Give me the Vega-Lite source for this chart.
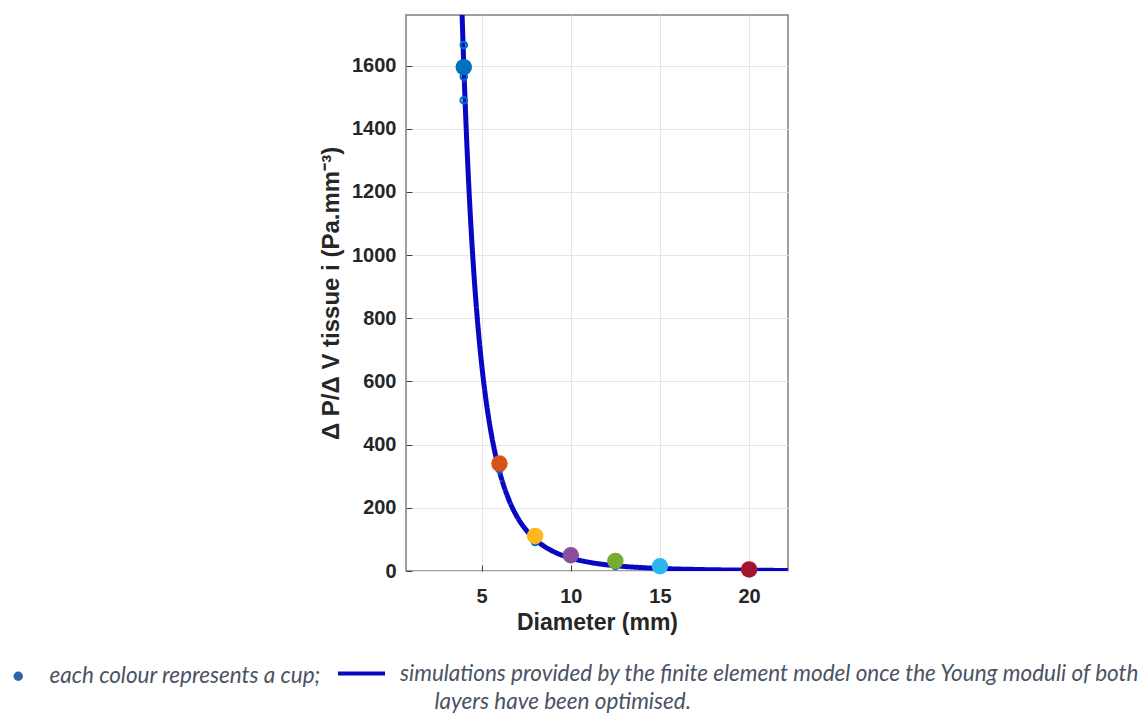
{
  "$schema": "https://vega.github.io/schema/vega-lite/v6.json",
  "width": 382,
  "height": 556,
  "autosize": {"type": "none"},
  "padding": {"left": 406, "top": 15, "right": 355, "bottom": 144},
  "background": "white",
  "config": {
    "view": {"stroke": "#7f7f7f", "strokeWidth": 1.5},
    "axis": {
      "labelFont": "Liberation Sans",
      "labelFontWeight": "bold",
      "labelFontSize": 20,
      "labelColor": "#262626",
      "titleFont": "Liberation Sans",
      "titleFontWeight": "bold",
      "titleFontSize": 23,
      "titleColor": "#262626",
      "gridColor": "#e6e6e6",
      "gridWidth": 1,
      "domain": false,
      "tickColor": "#404040",
      "tickSize": -6,
      "tickWidth": 1
    },
    "legend": {
      "orient": "none",
      "title": null,
      "labelFont": "Lato",
      "labelFontStyle": "italic",
      "labelFontSize": 22.5,
      "labelColor": "#4a5363",
      "labelLimit": 1000
    }
  },
  "datasets": {
    "curve": [
      {"d": 3.9, "v": 1770.6}, {"d": 4.0, "v": 1600}, {"d": 4.1, "v": 1449.6},
      {"d": 4.2, "v": 1316.3}, {"d": 4.3, "v": 1198.1}, {"d": 4.4, "v": 1092.8},
      {"d": 4.5, "v": 998.9}, {"d": 4.6, "v": 914.8}, {"d": 4.8, "v": 771.6},
      {"d": 5.0, "v": 655.4}, {"d": 5.25, "v": 539.2}, {"d": 5.5, "v": 447.6},
      {"d": 5.75, "v": 374.7}, {"d": 6.0, "v": 316.0}, {"d": 6.5, "v": 229.5},
      {"d": 7.0, "v": 170.6}, {"d": 7.5, "v": 129.5}, {"d": 8.0, "v": 100.0},
      {"d": 9.0, "v": 62.4}, {"d": 10.0, "v": 41.0}, {"d": 11.0, "v": 28.0},
      {"d": 12.5, "v": 16.8}, {"d": 14.0, "v": 10.7}, {"d": 15.0, "v": 8.1},
      {"d": 17.5, "v": 4.4}, {"d": 20.0, "v": 2.6}, {"d": 22.2, "v": 1.7}
    ],
    "sims": [
      {"d": 4, "v": 1665}, {"d": 4, "v": 1565}, {"d": 4, "v": 1490},
      {"d": 6, "v": 322}, {"d": 8, "v": 92}, {"d": 12.5, "v": 16}
    ],
    "cups": [
      {"cup": "A", "d": 4, "v": 1595},
      {"cup": "B", "d": 6, "v": 340},
      {"cup": "C", "d": 8, "v": 111},
      {"cup": "D", "d": 10, "v": 50},
      {"cup": "E", "d": 12.5, "v": 32},
      {"cup": "F", "d": 15, "v": 15},
      {"cup": "G", "d": 20, "v": 5}
    ]
  },
  "encoding": {
    "x": {
      "field": "d",
      "type": "quantitative",
      "title": "Diameter (mm)",
      "scale": {"domain": [0.76, 22.18], "nice": false, "zero": false},
      "axis": {"values": [5, 10, 15, 20], "format": "d", "labelPadding": 21, "titlePadding": 5}
    },
    "y": {
      "field": "v",
      "type": "quantitative",
      "title": "Δ P/Δ V tissue i (Pa.mm⁻³)",
      "scale": {"domain": [0, 1760], "nice": false},
      "axis": {"values": [0, 200, 400, 600, 800, 1000, 1200, 1400, 1600], "format": "d", "labelPadding": 16, "titlePadding": 8, "titleFontSize": 24}
    }
  },
  "layer": [
    {
      "data": {"name": "curve"},
      "mark": {"type": "line", "color": "#0707c4", "strokeWidth": 5, "clip": true, "interpolate": "monotone"},
      "encoding": {
        "strokeDash": {
          "datum": "simulations provided by the finite element model once the Young moduli of both",
          "type": "nominal",
          "scale": {"range": [[1, 0]]},
          "legend": {
            "legendX": -70,
            "legendY": 633,
            "symbolType": "stroke",
            "symbolSize": 2209,
            "symbolStrokeColor": "#0707c4",
            "symbolStrokeWidth": 4,
            "labelOffset": 13
          }
        }
      }
    },
    {
      "data": {"name": "sims"},
      "mark": {"type": "point", "shape": "circle", "filled": false, "strokeWidth": 2, "size": 45, "color": "#0072bd"},
      "encoding": {
        "opacity": {
          "datum": "layers have been optimised.",
          "type": "ordinal",
          "scale": {"range": [1]},
          "legend": {
            "legendX": 6,
            "legendY": 676,
            "symbolSize": 1,
            "symbolOpacity": 0,
            "symbolStrokeWidth": 0,
            "labelOffset": 0
          }
        }
      }
    },
    {
      "data": {"name": "cups"},
      "mark": {"type": "point", "filled": true, "size": 270, "opacity": 1},
      "encoding": {
        "color": {
          "field": "cup",
          "type": "nominal",
          "scale": {
            "domain": ["A", "B", "C", "D", "E", "F", "G"],
            "range": ["#0072bd", "#d95319", "#fdb81e", "#8a4f9a", "#77ac30", "#2bb8f0", "#a2142f"]
          },
          "legend": null
        },
        "shape": {
          "datum": "each colour represents a cup;",
          "type": "nominal",
          "scale": {"range": ["circle"]},
          "legend": {
            "legendX": -399,
            "legendY": 650,
            "symbolSize": 90,
            "symbolFillColor": "#2f63b0",
            "symbolStrokeColor": "#2f63b0",
            "symbolStrokeWidth": 0,
            "labelOffset": 20
          }
        }
      }
    }
  ]
}
